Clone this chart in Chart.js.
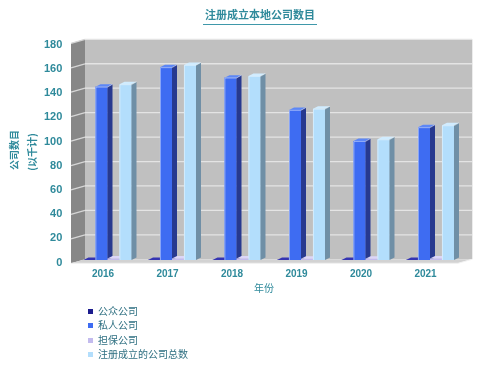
<!DOCTYPE html>
<html>
<head>
<meta charset="utf-8">
<script src="https://cdn.jsdelivr.net/npm/chart.js@4.4.1/dist/chart.umd.min.js"></script>
<style>
  body { margin: 0; background: #fff; }
  #wrap { position: relative; width: 492px; height: 375px; }
  #legend { position: absolute; left: 88px; top: 304px; font: 10px "Noto Sans CJK SC", sans-serif; color: #2f7082; }
  #legend .row { height: 14.3px; line-height: 14.3px; white-space: nowrap; }
  #legend .sw { display: inline-block; width: 5px; height: 5px; margin-right: 5px; vertical-align: 1px; }
</style>
</head>
<body>
<div id="wrap">
  <canvas id="chart" width="492" height="375"></canvas>
  <div id="legend"></div>
</div>
<script>
// values in thousands
const years = ['2016', '2017', '2018', '2019', '2020', '2021'];
const publicCos    = [0.1, 0.1, 0.1, 0.1, 0.1, 0.1];
const privateCos   = [143.2, 159.3, 150.7, 124.0, 98.3, 109.7];
const guaranteeCos = [1.2, 1.3, 1.2, 1.0, 1.1, 1.2];
const totalCos     = [145.2, 161.2, 152.1, 125.0, 99.7, 111.3];

const seriesNames = ['公众公司', '私人公司', '担保公司', '注册成立的公司总数'];
const yMin = 0, yMax = 180, yStep = 20;

// front / side / top colours for each series
const faceColors = [
  ['#1c1c8e', '#10105c', '#3434b2'],
  ['#3e6cf2', '#27398f', '#5d87f6'],
  ['#c3bbee', '#958dc6', '#dcd6f8'],
  ['#b3defc', '#6f8fa6', '#d0ecff']
];

const TEAL = '#2f8a9b';
const DEPTH = { dx: 5, dy: -2.5 };     // bar depth
const FRONT = { dx: -4.25, dy: 3.3 };  // front edge of the walls
const BACK  = { dx: 9.75, dy: -0.7 };  // back wall plane
const WALL_K = 1.01;

function poly(ctx, pts, fill) {
  ctx.beginPath();
  ctx.moveTo(pts[0][0], pts[0][1]);
  for (let i = 1; i < pts.length; i++) ctx.lineTo(pts[i][0], pts[i][1]);
  ctx.closePath();
  ctx.fillStyle = fill;
  ctx.fill();
}

const threeD = {
  id: 'threeD',
  beforeDatasetsDraw(chart) {
    const ctx = chart.ctx, ca = chart.chartArea, ys = chart.scales.y;
    const wy = (v, off) => ca.bottom + off + (ys.getPixelForValue(v) - ca.bottom) * WALL_K;
    const fl = ca.left + FRONT.dx, bl = ca.left + BACK.dx, br = ca.right + BACK.dx, fr = ca.right + FRONT.dx;
    ctx.save();
    // back wall
    poly(ctx, [[bl, wy(yMax, BACK.dy)], [br, wy(yMax, BACK.dy)], [br, wy(yMin, BACK.dy)], [bl, wy(yMin, BACK.dy)]], '#c0c0c0');
    // left wall
    poly(ctx, [[fl, wy(yMax, FRONT.dy)], [bl, wy(yMax, BACK.dy)], [bl, wy(yMin, BACK.dy)], [fl, wy(yMin, FRONT.dy)]], '#878787');
    // grid lines
    ctx.lineWidth = 1.3;
    for (let v = yMin + yStep; v <= yMax; v += yStep) {
      ctx.strokeStyle = '#d6d6d6';
      ctx.beginPath();
      ctx.moveTo(fl, wy(v, FRONT.dy));
      ctx.lineTo(bl, wy(v, BACK.dy));
      ctx.stroke();
      ctx.strokeStyle = '#e4e4e4';
      ctx.beginPath();
      ctx.moveTo(bl, wy(v, BACK.dy));
      ctx.lineTo(br, wy(v, BACK.dy));
      ctx.stroke();
    }
    ctx.strokeStyle = '#ececec';
    ctx.lineWidth = 1;
    ctx.beginPath();
    ctx.moveTo(br + 0.5, wy(yMax, BACK.dy));
    ctx.lineTo(br + 0.5, wy(yMin, BACK.dy));
    ctx.stroke();
    // floor
    poly(ctx, [[fl, wy(0, FRONT.dy)], [bl, wy(0, BACK.dy)], [br, wy(0, BACK.dy)], [fr, wy(0, FRONT.dy)]], '#d2d2d2');
    ctx.strokeStyle = '#f2f2f2';
    ctx.beginPath();
    ctx.moveTo(fl, wy(0, FRONT.dy));
    ctx.lineTo(fr, wy(0, FRONT.dy));
    ctx.lineTo(br, wy(0, BACK.dy));
    ctx.stroke();
    ctx.restore();
  },
  afterDatasetsDraw(chart) {
    const ctx = chart.ctx;
    ctx.save();
    for (let i = 0; i < years.length; i++) {
      for (let d = 0; d < chart.data.datasets.length; d++) {
        const el = chart.getDatasetMeta(d).data[i];
        const p = el.getProps(['x', 'y', 'base', 'width'], true);
        const l = p.x - p.width / 2, r = p.x + p.width / 2;
        const top = Math.min(p.y, p.base), bot = Math.max(p.y, p.base);
        const c = faceColors[d];
        poly(ctx, [[l, top], [r, top], [r, bot], [l, bot]], c[0]);
        poly(ctx, [[r, top], [r + DEPTH.dx, top + DEPTH.dy], [r + DEPTH.dx, bot + DEPTH.dy], [r, bot]], c[1]);
        poly(ctx, [[l, top], [l + DEPTH.dx, top + DEPTH.dy], [r + DEPTH.dx, top + DEPTH.dy], [r, top]], c[2]);
        if (bot - top > 2) {
          ctx.strokeStyle = 'rgba(255,255,255,0.55)';
          ctx.lineWidth = 0.8;
          ctx.beginPath();
          ctx.moveTo(l + 0.4, bot);
          ctx.lineTo(l + 0.4, top + 0.4);
          ctx.lineTo(r, top + 0.4);
          ctx.lineTo(r + DEPTH.dx, top + DEPTH.dy);
          ctx.stroke();
        }
      }
    }
    ctx.restore();
  },
  afterDraw(chart) {
    const ctx = chart.ctx;
    ctx.save();
    ctx.fillStyle = TEAL;
    ctx.textAlign = 'center';
    ctx.textBaseline = 'middle';
    // title
    ctx.font = 'bold 11px "Noto Sans CJK SC"';
    ctx.fillText('注册成立本地公司数目', 260, 15);
    ctx.strokeStyle = '#3f98aa';
    ctx.lineWidth = 1;
    ctx.beginPath();
    ctx.moveTo(203, 24.5);
    ctx.lineTo(317, 24.5);
    ctx.stroke();
    // x axis title
    ctx.font = '10px "Noto Sans CJK SC"';
    ctx.fillText('年份', 264, 288);
    // y axis title
    ctx.font = 'bold 10px "Noto Sans CJK SC"';
    ctx.save();
    ctx.translate(14.5, 150);
    ctx.rotate(-Math.PI / 2);
    ctx.fillText('公司数目', 0, 0);
    ctx.restore();
    ctx.save();
    ctx.translate(32.5, 152);
    ctx.rotate(-Math.PI / 2);
    ctx.fillText('(以千计)', 0, 0);
    ctx.restore();
    ctx.restore();
  }
};

const seriesData = [publicCos, privateCos, guaranteeCos, totalCos];

const chart = new Chart(document.getElementById('chart'), {
  type: 'bar',
  data: {
    labels: years,
    datasets: seriesData.map((vals, k) => ({
      label: seriesNames[k],
      data: vals,
      backgroundColor: faceColors[k][0],
      borderWidth: 0,
      categoryPercentage: 0.744,
      barPercentage: 1
    }))
  },
  options: {
    responsive: false,
    animation: false,
    events: [],
    layout: { padding: { top: 42.2, right: 29.75, bottom: 0, left: 0 } },
    plugins: { legend: { display: false }, tooltip: { enabled: false } },
    scales: {
      x: {
        grid: { display: false, drawTicks: false },
        border: { display: false },
        ticks: { color: TEAL, font: { family: 'Liberation Sans', size: 10, weight: 'bold' }, padding: 8, labelOffset: -4.5, maxRotation: 0 },
        afterFit(scale) { scale.height = 115; }
      },
      y: {
        min: yMin, max: yMax,
        grid: { display: false, drawTicks: false },
        border: { display: false },
        ticks: { stepSize: yStep, color: TEAL, font: { family: 'Liberation Sans', size: 11, weight: 'bold' }, padding: 13, labelOffset: 2.5 },
        afterFit(scale) { scale.width = 75.25; }
      }
    }
  },
  plugins: [threeD]
});

// legend, one item per line
const legend = document.getElementById('legend');
chart.data.datasets.forEach(ds => {
  const row = document.createElement('div');
  row.className = 'row';
  const sw = document.createElement('span');
  sw.className = 'sw';
  sw.style.background = ds.backgroundColor;
  row.appendChild(sw);
  row.appendChild(document.createTextNode(ds.label));
  legend.appendChild(row);
});
</script>
</body>
</html>
